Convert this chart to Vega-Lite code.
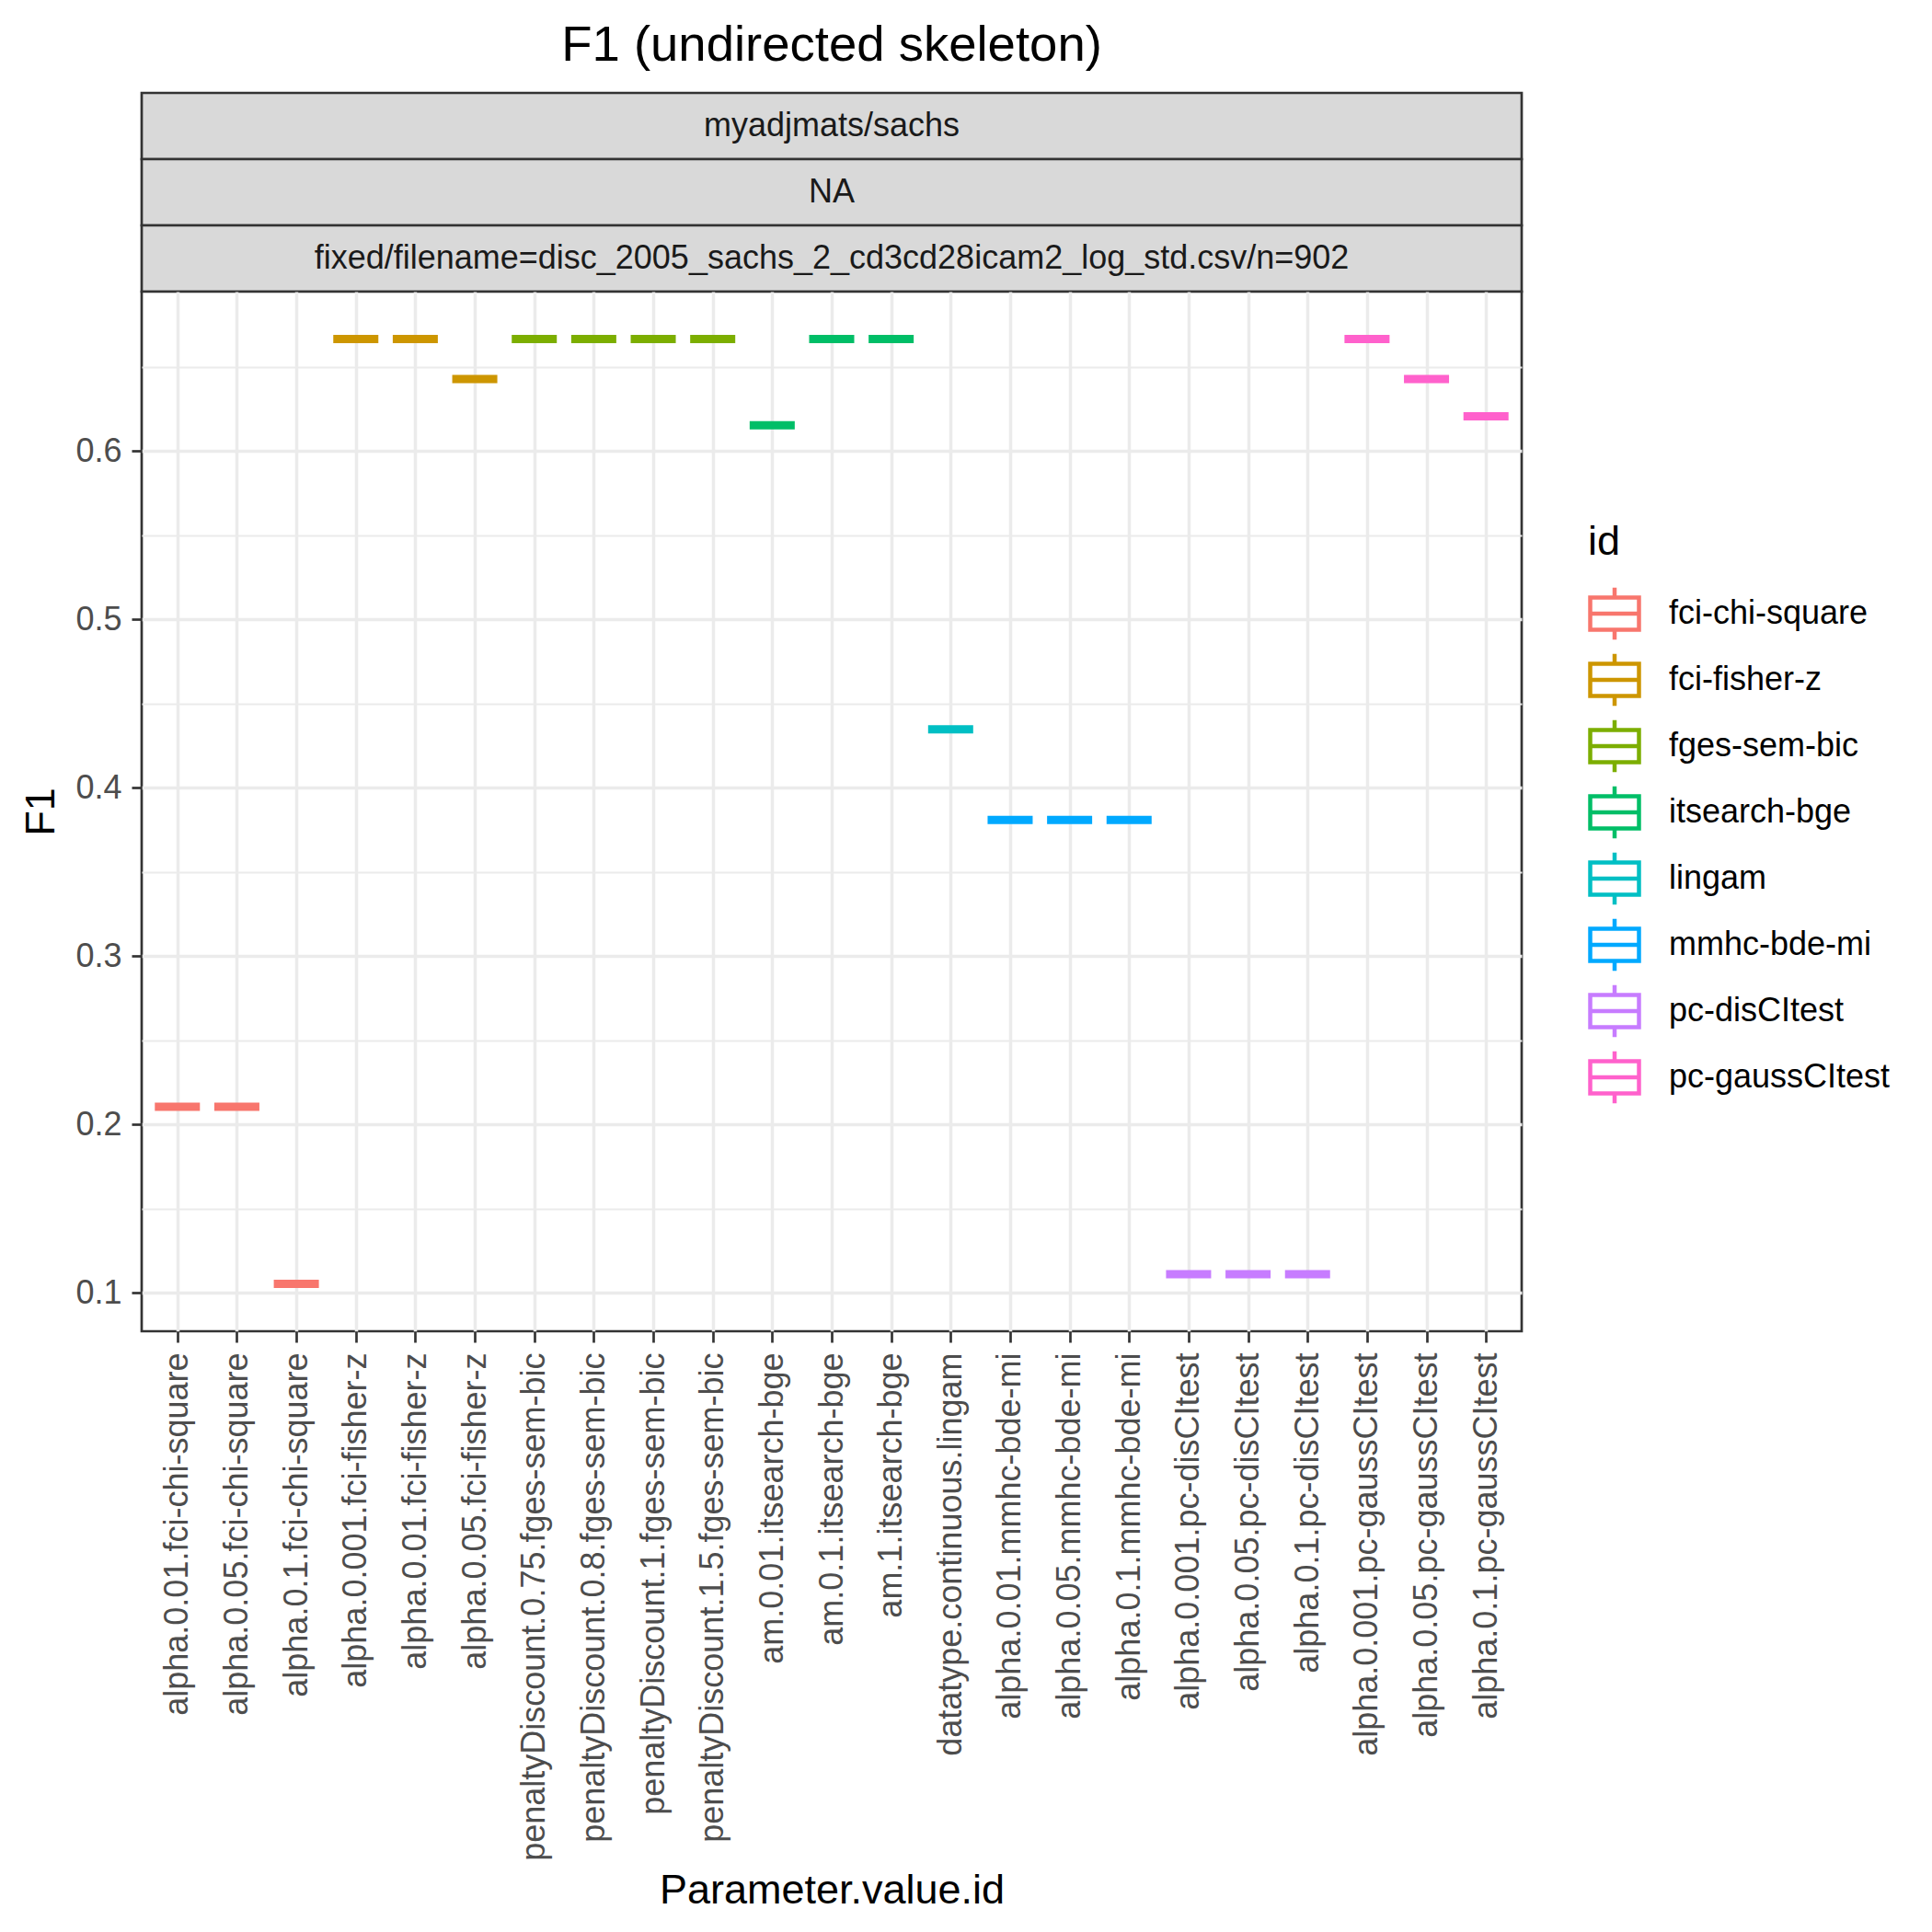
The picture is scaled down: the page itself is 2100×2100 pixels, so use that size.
{
  "$schema": "https://vega.github.io/schema/vega-lite/v6.json",
  "background": "white",
  "padding": {"left": 21, "top": 20, "right": 0, "bottom": 0},
  "datasets": {
    "f1": [
      {"param": "alpha.0.01.fci-chi-square", "id": "fci-chi-square", "F1": 0.2105},
      {"param": "alpha.0.05.fci-chi-square", "id": "fci-chi-square", "F1": 0.2105},
      {"param": "alpha.0.1.fci-chi-square", "id": "fci-chi-square", "F1": 0.1053},
      {"param": "alpha.0.001.fci-fisher-z", "id": "fci-fisher-z", "F1": 0.6667},
      {"param": "alpha.0.01.fci-fisher-z", "id": "fci-fisher-z", "F1": 0.6667},
      {"param": "alpha.0.05.fci-fisher-z", "id": "fci-fisher-z", "F1": 0.6429},
      {"param": "penaltyDiscount.0.75.fges-sem-bic", "id": "fges-sem-bic", "F1": 0.6667},
      {"param": "penaltyDiscount.0.8.fges-sem-bic", "id": "fges-sem-bic", "F1": 0.6667},
      {"param": "penaltyDiscount.1.fges-sem-bic", "id": "fges-sem-bic", "F1": 0.6667},
      {"param": "penaltyDiscount.1.5.fges-sem-bic", "id": "fges-sem-bic", "F1": 0.6667},
      {"param": "am.0.01.itsearch-bge", "id": "itsearch-bge", "F1": 0.6154},
      {"param": "am.0.1.itsearch-bge", "id": "itsearch-bge", "F1": 0.6667},
      {"param": "am.1.itsearch-bge", "id": "itsearch-bge", "F1": 0.6667},
      {"param": "datatype.continuous.lingam", "id": "lingam", "F1": 0.4348},
      {"param": "alpha.0.01.mmhc-bde-mi", "id": "mmhc-bde-mi", "F1": 0.381},
      {"param": "alpha.0.05.mmhc-bde-mi", "id": "mmhc-bde-mi", "F1": 0.381},
      {"param": "alpha.0.1.mmhc-bde-mi", "id": "mmhc-bde-mi", "F1": 0.381},
      {"param": "alpha.0.001.pc-disCItest", "id": "pc-disCItest", "F1": 0.1111},
      {"param": "alpha.0.05.pc-disCItest", "id": "pc-disCItest", "F1": 0.1111},
      {"param": "alpha.0.1.pc-disCItest", "id": "pc-disCItest", "F1": 0.1111},
      {"param": "alpha.0.001.pc-gaussCItest", "id": "pc-gaussCItest", "F1": 0.6667},
      {"param": "alpha.0.05.pc-gaussCItest", "id": "pc-gaussCItest", "F1": 0.6429},
      {"param": "alpha.0.1.pc-gaussCItest", "id": "pc-gaussCItest", "F1": 0.6207}
    ]
  },
  "spacing": 0,
  "bounds": "flush",
  "vconcat": [
    {
      "width": 1500, "height": 72,
      "title": {"text": "F1 (undirected skeleton)", "fontSize": 54.5, "fontWeight": "normal", "color": "black", "anchor": "middle", "frame": "group", "baseline": "bottom", "offset": -30},
      "view": {"fill": "#D9D9D9", "stroke": "#333333", "strokeWidth": 2.7},
      "data": {"values": [{"label": "myadjmats/sachs"}]},
      "mark": {"type": "text", "fontSize": 36, "color": "#1A1A1A"},
      "encoding": {"text": {"field": "label", "type": "nominal"}}
    },
    {
      "width": 1500, "height": 72,
      "view": {"fill": "#D9D9D9", "stroke": "#333333", "strokeWidth": 2.7},
      "data": {"values": [{"label": "NA"}]},
      "mark": {"type": "text", "fontSize": 36, "color": "#1A1A1A"},
      "encoding": {"text": {"field": "label", "type": "nominal"}}
    },
    {
      "width": 1500, "height": 72,
      "view": {"fill": "#D9D9D9", "stroke": "#333333", "strokeWidth": 2.7},
      "data": {"values": [{"label": "fixed/filename=disc_2005_sachs_2_cd3cd28icam2_log_std.csv/n=902"}]},
      "mark": {"type": "text", "fontSize": 36, "color": "#1A1A1A"},
      "encoding": {"text": {"field": "label", "type": "nominal"}}
    },
    {
      "width": 1500, "height": 1130,
      "view": {"fill": "white", "stroke": "#333333", "strokeWidth": 2.7},
      "data": {"name": "f1"},
      "mark": {"type": "tick", "filled": false, "thickness": 1, "size": 41, "strokeWidth": 8, "opacity": 1},
      "encoding": {
        "x": {
          "field": "param", "type": "nominal", "sort": null,
          "scale": {"type": "point", "padding": 0.6},
          "axis": {
            "title": "Parameter.value.id", "titleFontSize": 45, "titleFontWeight": "normal", "titleColor": "black", "titlePadding": 10,
            "labelAngle": -90, "labelFontSize": 36, "labelColor": "#4D4D4D", "labelPadding": 11, "labelLimit": 2000, "labelOverlap": false,
            "maxExtent": 800,
            "tickSize": 12, "tickWidth": 2.7, "tickColor": "#333333",
            "grid": true, "gridColor": "#EBEBEB", "gridWidth": 3.5, "domain": false
          }
        },
        "y": {
          "field": "F1", "type": "quantitative",
          "scale": {"domain": [0.0772, 0.6948], "nice": false, "zero": false},
          "axis": {
            "title": "F1", "titleFontSize": 45, "titleFontWeight": "normal", "titleColor": "black", "titlePadding": 14,
            "values": [0.1, 0.15, 0.2, 0.25, 0.3, 0.35, 0.4, 0.45, 0.5, 0.55, 0.6, 0.65],
            "labelExpr": "round(datum.value*20)%2==0 ? format(datum.value,'.1f') : ''",
            "labelFontSize": 36, "labelColor": "#4D4D4D", "labelPadding": 11, "labelOverlap": false, "labelFlush": false,
            "tickSize": 11, "tickWidth": 2.7, "tickColor": "#333333",
            "tickOpacity": {"condition": {"test": "round(datum.value*20)%2==1", "value": 0}, "value": 1},
            "grid": true, "gridColor": "#EBEBEB",
            "gridWidth": {"condition": {"test": "round(datum.value*20)%2==1", "value": 1.8}, "value": 3.5},
            "domain": false
          }
        },
        "color": {
          "field": "id", "type": "nominal",
          "scale": {
            "domain": ["fci-chi-square", "fci-fisher-z", "fges-sem-bic", "itsearch-bge", "lingam", "mmhc-bde-mi", "pc-disCItest", "pc-gaussCItest"],
            "range": ["#F8766D", "#CD9600", "#7CAE00", "#00BE67", "#00BFC4", "#00A9FF", "#C77CFF", "#FF61CC"]
          },
          "legend": {
            "title": "id", "orient": "none", "legendX": 1572, "legendY": 466, "padding": 0,
            "titleFontSize": 45, "titleFontWeight": "normal", "titleColor": "black", "titlePadding": 26,
            "labelFontSize": 36, "labelColor": "black", "labelOffset": 30, "labelLimit": 1000,
            "symbolType": "M-1,-0.66H1V0.66H-1ZM-1,0H1M0,-0.66V-1.07M0,0.66V1.07",
            "symbolSize": 2809, "symbolStrokeWidth": 4.5, "symbolFillColor": "transparent", "rowPadding": -4,
            "encode": {"symbols": {"update": {"fill": {"value": "transparent"}, "strokeWidth": {"value": 4.5}, "opacity": {"value": 1}}}}
          }
        }
      }
    }
  ],
  "config": {
    "font": "Liberation Sans",
    "view": {"stroke": "#333333", "strokeWidth": 2.7}
  }
}
